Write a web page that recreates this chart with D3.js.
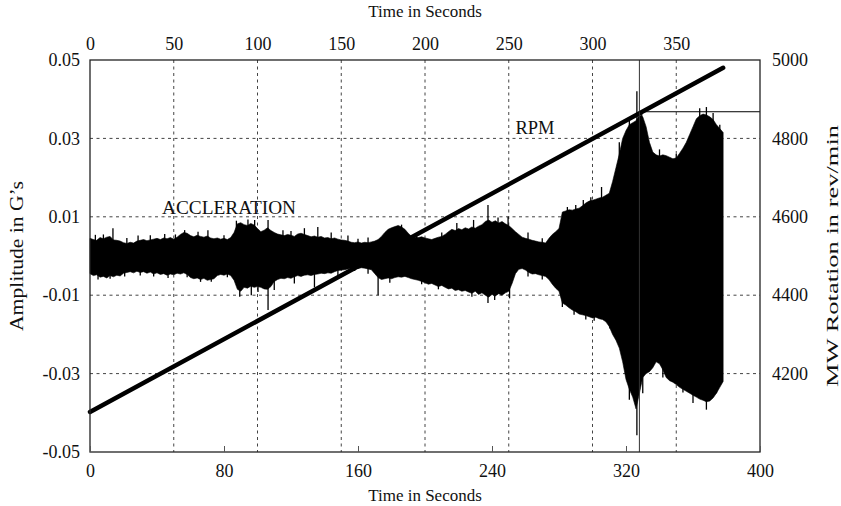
<!DOCTYPE html>
<html>
<head>
<meta charset="utf-8">
<script src="https://cdn.jsdelivr.net/npm/d3@7"></script>
<style>
  body { margin: 0; background: #fff; }
  svg text { font-family: "Liberation Serif", "Times New Roman", serif; fill: #111; }
</style>
</head>
<body>
<div id="chart"></div>
<script>
// Acceleration envelope, sampled every 2 seconds (G's)
const sampleStep = 2;
const accUpper = [
  0.0045, 0.0042, 0.0040, 0.0047, 0.0044, 0.0048, 0.0050, 0.0041, 0.0040, 0.0038,
  0.0034, 0.0032, 0.0035, 0.0033, 0.0038, 0.0040, 0.0042, 0.0039, 0.0041, 0.0043,
  0.0045, 0.0042, 0.0046, 0.0044, 0.0047, 0.0043, 0.0048, 0.0055, 0.0060, 0.0058,
  0.0052, 0.0049, 0.0053, 0.0050, 0.0048, 0.0051, 0.0046, 0.0044, 0.0046, 0.0043,
  0.0045, 0.0042, 0.0047, 0.0060, 0.0082, 0.0085, 0.0080, 0.0078, 0.0083, 0.0079,
  0.0070, 0.0062, 0.0066, 0.0072, 0.0065, 0.0060, 0.0056, 0.0054, 0.0052, 0.0055,
  0.0053, 0.0050, 0.0056, 0.0058, 0.0055, 0.0052, 0.0049, 0.0051, 0.0048, 0.0050,
  0.0046, 0.0047, 0.0044, 0.0046, 0.0043, 0.0041, 0.0040, 0.0038, 0.0035, 0.0034,
  0.0036, 0.0033, 0.0035, 0.0034, 0.0036, 0.0038, 0.0042, 0.0050, 0.0060, 0.0068,
  0.0072, 0.0075, 0.0078, 0.0074, 0.0068, 0.0058, 0.0050, 0.0048, 0.0047, 0.0049,
  0.0046, 0.0044, 0.0042, 0.0045, 0.0048, 0.0050, 0.0055, 0.0062, 0.0068, 0.0065,
  0.0070, 0.0067, 0.0072, 0.0069, 0.0074, 0.0071, 0.0076, 0.0080, 0.0088, 0.0092,
  0.0086, 0.0090, 0.0084, 0.0088, 0.0082, 0.0078, 0.0070, 0.0062, 0.0055, 0.0048,
  0.0045, 0.0043, 0.0040, 0.0038, 0.0036, 0.0035, 0.0033, 0.0045, 0.0055, 0.0062,
  0.0070, 0.0112, 0.0115, 0.0118, 0.0117, 0.0120, 0.0122, 0.0128, 0.0135, 0.0140,
  0.0142, 0.0145, 0.0148, 0.0150, 0.0155, 0.0160, 0.0190, 0.0225, 0.0260, 0.0300,
  0.0320, 0.0335, 0.0340, 0.0345, 0.0360, 0.0355, 0.0330, 0.0290, 0.0265, 0.0258,
  0.0255, 0.0258, 0.0256, 0.0252, 0.0248, 0.0250, 0.0262, 0.0275, 0.0290, 0.0310,
  0.0330, 0.0350, 0.0358, 0.0362, 0.0360, 0.0355, 0.0348, 0.0335, 0.0325, 0.0315
];
const accLower = [
  -0.0045, -0.0050, -0.0048, -0.0054, -0.0052, -0.0056, -0.0050, -0.0053, -0.0049, -0.0051,
  -0.0044, -0.0042, -0.0040, -0.0043, -0.0039, -0.0042, -0.0040, -0.0044, -0.0041, -0.0046,
  -0.0043, -0.0047, -0.0045, -0.0049, -0.0046, -0.0048, -0.0044, -0.0046, -0.0043, -0.0047,
  -0.0055, -0.0058, -0.0056, -0.0060, -0.0057, -0.0062, -0.0060, -0.0058, -0.0050, -0.0047,
  -0.0049, -0.0046, -0.0050, -0.0062, -0.0085, -0.0090, -0.0080, -0.0082, -0.0077, -0.0080,
  -0.0078, -0.0080, -0.0084, -0.0085, -0.0078, -0.0065, -0.0060, -0.0057, -0.0058, -0.0055,
  -0.0057, -0.0053, -0.0050, -0.0052, -0.0049, -0.0048, -0.0050, -0.0047, -0.0046, -0.0044,
  -0.0045, -0.0043, -0.0044, -0.0040, -0.0037, -0.0036, -0.0035, -0.0033, -0.0031, -0.0030,
  -0.0032, -0.0030, -0.0031, -0.0033, -0.0035, -0.0045, -0.0055, -0.0060, -0.0058, -0.0056,
  -0.0058, -0.0055, -0.0053, -0.0054, -0.0052, -0.0055, -0.0058, -0.0060, -0.0062, -0.0065,
  -0.0068, -0.0072, -0.0070, -0.0074, -0.0078, -0.0075, -0.0080, -0.0084, -0.0082, -0.0088,
  -0.0086, -0.0090, -0.0088, -0.0092, -0.0095, -0.0090, -0.0098, -0.0094, -0.0100, -0.0105,
  -0.0098, -0.0102, -0.0096, -0.0100, -0.0094, -0.0090, -0.0070, -0.0045, -0.0034, -0.0032,
  -0.0036, -0.0042, -0.0046, -0.0045, -0.0048, -0.0050, -0.0052, -0.0060, -0.0072, -0.0082,
  -0.0090, -0.0120, -0.0125, -0.0132, -0.0138, -0.0142, -0.0148, -0.0150, -0.0152, -0.0155,
  -0.0158, -0.0156, -0.0160, -0.0162, -0.0168, -0.0180, -0.0200, -0.0215, -0.0235, -0.0270,
  -0.0315, -0.0340, -0.0360, -0.0390, -0.0350, -0.0310, -0.0300, -0.0295, -0.0285, -0.0270,
  -0.0275, -0.0290, -0.0310, -0.0318, -0.0322, -0.0328, -0.0335, -0.0340, -0.0345, -0.0350,
  -0.0355, -0.0360, -0.0365, -0.0368, -0.0372, -0.0370, -0.0362, -0.0350, -0.0335, -0.0320
];

// Isolated spikes sticking out of the envelope (time s, G's)
const upSpikeTimes = [3.2, 8, 13.7, 22, 28.7, 36, 44.6, 51, 56.5, 64.5, 70.4, 80, 87.4, 94.3, 98.3,
  106.3, 115.2, 120, 128, 136, 144, 154, 160, 166, 186, 195, 210, 219, 229, 237.6, 243.6, 249.6,
  261.5, 270, 285, 290, 294.5, 299, 305.4, 316, 322, 326.5, 329.4, 340, 350, 364, 368, 372, 376];
const upSpikeValues = [0.0054, 0.0055, 0.0071, 0.0046, 0.0052, 0.0053, 0.0056, 0.0055, 0.0066, 0.0062, 0.0066, 0.0053, 0.0090, 0.0093, 0.0092,
  0.0092, 0.0066, 0.0064, 0.0071, 0.0074, 0.0060, 0.0052, 0.0044, 0.0047, 0.0080, 0.0058, 0.0060, 0.0084, 0.0092, 0.0130, 0.0098, 0.0100,
  0.0060, 0.0045, 0.0125, 0.0130, 0.0143, 0.0150, 0.0176, 0.0290, 0.0347, 0.0420, 0.0372, 0.0272, 0.0260, 0.0377, 0.0380, 0.0365, 0.0335];
const downSpikeTimes = [4.8, 12, 20.7, 30, 38, 46.6, 58, 66, 72.4, 82, 89.4, 96.3, 100.3,
  106.3, 110, 122, 134, 148, 158, 166, 172, 179, 198, 208, 217, 228, 237.6, 241.6, 250.5, 261.5,
  270, 282, 289, 296, 301, 310.4, 322, 326.5, 330, 342, 354, 360, 368, 374];
const downSpikeValues = [-0.0060, -0.0058, -0.0052, -0.0050, -0.0052, -0.0056, -0.0054, -0.0066, -0.0066, -0.0054, -0.0104, -0.0100, -0.0092,
  -0.0138, -0.0087, -0.0070, -0.0080, -0.0052, -0.0038, -0.0045, -0.0100, -0.0068, -0.0072, -0.0085, -0.0066, -0.0104, -0.0120, -0.0112, -0.0108, -0.0052,
  -0.0060, -0.0130, -0.0150, -0.0162, -0.0165, -0.0185, -0.0367, -0.0457, -0.0350, -0.0310, -0.0348, -0.0375, -0.0392, -0.0350];

// RPM sweep
const rpmTimes = [0, 378];
const rpmValues = [4102, 4980];

// Marker at the resonance
const markerTime = 328;
const markerRpm = 4868;

// Ticks
const topTicks = [0, 50, 100, 150, 200, 250, 300, 350];
const bottomTicks = [0, 80, 160, 240, 320, 400];
const leftTicks = [-0.05, -0.03, -0.01, 0.01, 0.03, 0.05];
const rightTicks = [4200, 4400, 4600, 4800, 5000];
const vGrid = [50, 100, 150, 200, 250, 300, 350];
const hGrid = [-0.03, -0.01, 0.01, 0.03];

const margin = { top: 60, right: 81, bottom: 54, left: 90 },
    width = 841 - margin.left - margin.right,
    height = 506 - margin.top - margin.bottom;

const svg = d3.select("#chart")
    .append("svg")
    .attr("width", width + margin.left + margin.right)
    .attr("height", height + margin.top + margin.bottom)
    .append("g")
    .attr("transform", "translate(" + margin.left + "," + margin.top + ")");

const x = d3.scaleLinear().domain([0, 400]).range([0, width]);
const yAmp = d3.scaleLinear().domain([-0.05, 0.05]).range([height, 0]);
const yRpm = d3.scaleLinear().domain([4000, 5000]).range([height, 0]);

// Dashed grid
svg.append("g").selectAll("line")
    .data(vGrid)
    .enter().append("line")
    .attr("x1", d => x(d)).attr("x2", d => x(d))
    .attr("y1", 0).attr("y2", height)
    .attr("stroke", "#444").attr("stroke-width", 1)
    .attr("stroke-dasharray", "3,3.5");
svg.append("g").selectAll("line")
    .data(hGrid)
    .enter().append("line")
    .attr("x1", 0).attr("x2", width)
    .attr("y1", d => yAmp(d)).attr("y2", d => yAmp(d))
    .attr("stroke", "#444").attr("stroke-width", 1)
    .attr("stroke-dasharray", "3,3.5");

// Acceleration signal envelope
const area = d3.area()
    .x((d, i) => x(i * sampleStep))
    .y0((d, i) => yAmp(accLower[i]))
    .y1(d => yAmp(d));
svg.append("path")
    .datum(accUpper)
    .attr("d", area)
    .attr("fill", "#000")
    .attr("stroke", "#000")
    .attr("stroke-width", 0.6);

svg.append("g").selectAll("line")
    .data(upSpikeTimes)
    .enter().append("line")
    .attr("x1", d => x(d)).attr("x2", d => x(d))
    .attr("y1", yAmp(0))
    .attr("y2", (d, i) => yAmp(upSpikeValues[i]))
    .attr("stroke", "#000").attr("stroke-width", 1.3);
svg.append("g").selectAll("line")
    .data(downSpikeTimes)
    .enter().append("line")
    .attr("x1", d => x(d)).attr("x2", d => x(d))
    .attr("y1", yAmp(0))
    .attr("y2", (d, i) => yAmp(downSpikeValues[i]))
    .attr("stroke", "#000").attr("stroke-width", 1.3);

// RPM line
svg.append("path")
    .datum(rpmTimes)
    .attr("d", d3.line().x(d => x(d)).y((d, i) => yRpm(rpmValues[i])))
    .attr("fill", "none")
    .attr("stroke", "#000")
    .attr("stroke-width", 4.5)
    .attr("stroke-linecap", "round");

// Marker lines
svg.append("line")
    .attr("x1", x(markerTime)).attr("x2", x(markerTime))
    .attr("y1", 0).attr("y2", height)
    .attr("stroke", "#333").attr("stroke-width", 1);
svg.append("line")
    .attr("x1", x(markerTime)).attr("x2", width)
    .attr("y1", yRpm(markerRpm)).attr("y2", yRpm(markerRpm))
    .attr("stroke", "#000").attr("stroke-width", 1);

// Frame
svg.append("rect")
    .attr("width", width).attr("height", height)
    .attr("fill", "none")
    .attr("stroke", "#222").attr("stroke-width", 1.3);

// Axes
const fontSize = "18px";
const topAxis = svg.append("g")
    .call(d3.axisTop(x).tickValues(topTicks).tickSize(0).tickPadding(10));
const bottomAxis = svg.append("g")
    .attr("transform", "translate(0," + height + ")")
    .call(d3.axisBottom(x).tickValues(bottomTicks).tickSizeInner(-6).tickSizeOuter(0).tickPadding(12).tickFormat(d3.format("d")));
const leftAxis = svg.append("g")
    .call(d3.axisLeft(yAmp).tickValues(leftTicks).tickSize(0).tickPadding(10).tickFormat(d => d.toFixed(2)));
const rightAxis = svg.append("g")
    .attr("transform", "translate(" + width + ",0)")
    .call(d3.axisRight(yRpm).tickValues(rightTicks).tickSize(0).tickPadding(12).tickFormat(d3.format("d")));

[topAxis, bottomAxis, leftAxis, rightAxis].forEach(a => {
    a.select(".domain").remove();
    a.selectAll("text").style("font-size", fontSize).attr("fill", "#111");
    a.attr("font-family", null);
});
bottomAxis.selectAll("line").attr("stroke", "#555");

// Titles
svg.append("text")
    .attr("x", width / 2).attr("y", -43)
    .attr("text-anchor", "middle")
    .style("font-size", "17px")
    .text("Time in Seconds");
svg.append("text")
    .attr("x", width / 2).attr("y", height + 49)
    .attr("text-anchor", "middle")
    .style("font-size", "17px")
    .text("Time in Seconds");
svg.append("text")
    .attr("transform", "translate(-67," + (height / 2) + ") rotate(-90)")
    .attr("text-anchor", "middle")
    .style("font-size", "18px")
    .attr("textLength", 150).attr("lengthAdjust", "spacingAndGlyphs")
    .text("Amplitude in G\u2019s");
svg.append("text")
    .attr("transform", "translate(" + (width + 78) + "," + (height / 2) + ") rotate(-90)")
    .attr("text-anchor", "middle")
    .style("font-size", "17px")
    .attr("textLength", 262).attr("lengthAdjust", "spacingAndGlyphs")
    .text("MW Rotation in rev/min");

// Annotations
svg.append("text")
    .attr("x", x(43)).attr("y", yAmp(0.0108))
    .style("font-size", "18px")
    .attr("textLength", 134).attr("lengthAdjust", "spacingAndGlyphs")
    .text("ACCLERATION");
svg.append("text")
    .attr("x", x(254)).attr("y", yAmp(0.031))
    .style("font-size", "18px")
    .attr("textLength", 39).attr("lengthAdjust", "spacingAndGlyphs")
    .text("RPM");
</script>
</body>
</html>
